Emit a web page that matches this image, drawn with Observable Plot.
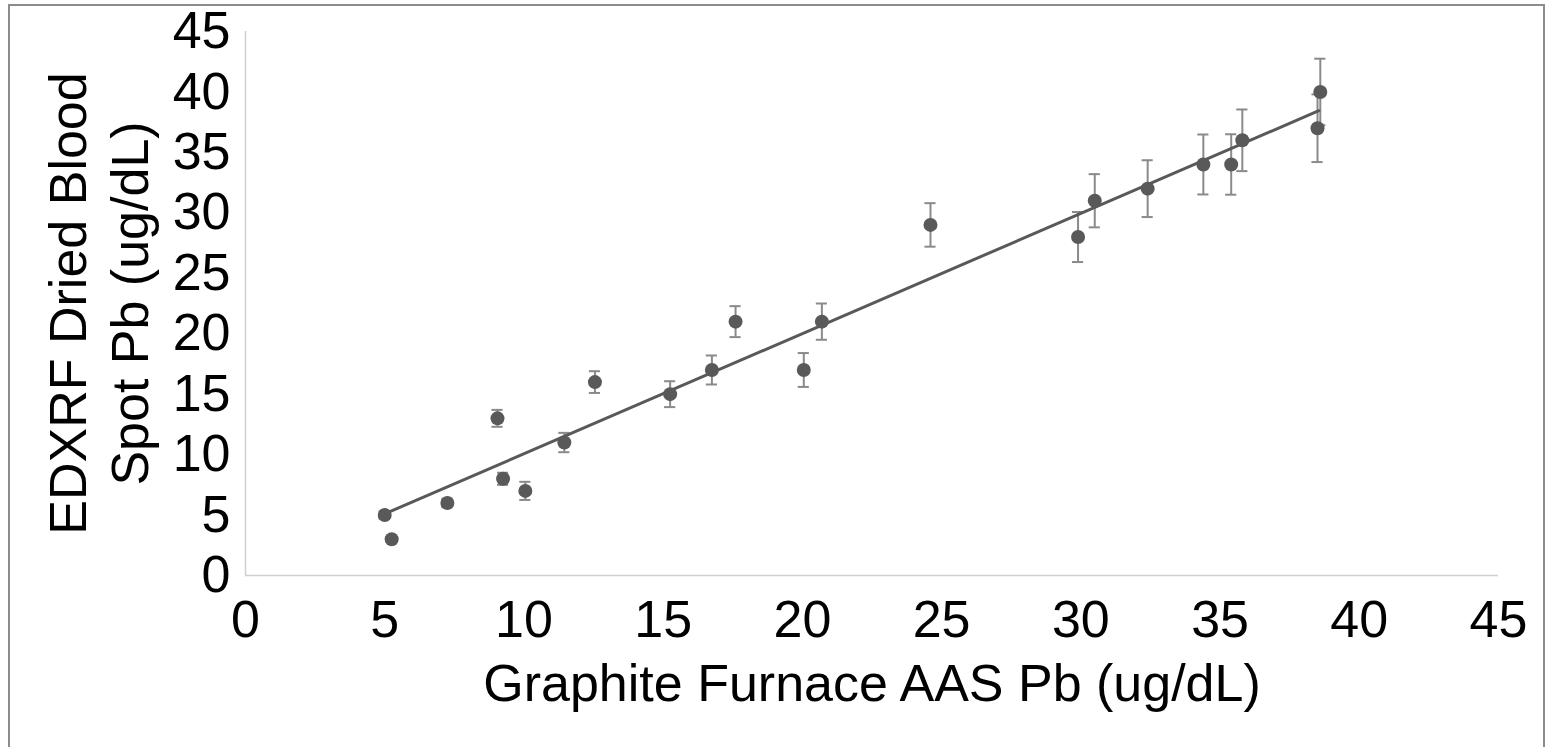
<!DOCTYPE html>
<html>
<head>
<meta charset="utf-8">
<script src="https://cdn.jsdelivr.net/npm/d3@7"></script>
<script src="https://cdn.jsdelivr.net/npm/@observablehq/plot@0.6"></script>
<style>
  html, body { margin: 0; padding: 0; background: #fff; }
  #wrap { position: relative; width: 1549px; height: 747px; overflow: hidden; }
  #border { position: absolute; left: 8px; top: 4px; width: 1537px; height: 760px;
            border: 2px solid #8c8c8c; pointer-events: none; box-sizing: border-box; }
</style>
</head>
<body>
<div id="wrap"><div id="chart"></div><div id="border"></div></div>
<script>
// Graphite Furnace AAS Pb (x) vs EDXRF dried blood spot Pb (y), ug/dL
const gfaas = [5.0, 5.25, 7.25, 9.05, 9.25, 10.05, 11.45, 12.55, 15.25, 16.75, 17.6, 20.05, 20.7, 24.6, 29.9, 30.5, 32.4, 34.4, 35.4, 35.8, 38.5, 38.6];
const edxrf = [5.0, 3.0, 6.0, 13.0, 8.0, 7.0, 11.0, 16.0, 15.0, 17.0, 21.0, 17.0, 21.0, 29.0, 28.0, 31.0, 32.0, 34.0, 34.0, 36.0, 37.0, 40.0];
const errs  = [0.3, 0.2, 0.35, 0.7, 0.5, 0.75, 0.8, 0.9, 1.07, 1.2, 1.28, 1.4, 1.5, 1.8, 2.07, 2.2, 2.35, 2.48, 2.5, 2.55, 2.8, 2.75];
// fitted trend line end points
const trendX = [5.0, 38.55];
const trendY = [5.1, 38.45];
const xTicks = [0, 5, 10, 15, 20, 25, 30, 35, 40, 45];
const yTicks = [0, 5, 10, 15, 20, 25, 30, 35, 40, 45];
const xTitle = "Graphite Furnace AAS Pb (ug/dL)";
const yTitle1 = "EDXRF Dried Blood";
const yTitle2 = "Spot Pb (ug/dL)";

const pts = gfaas.map((x, i) => ({x, y: edxrf[i], e: errs[i]}));
const trend = trendX.map((x, i) => ({x, y: trendY[i]}));
const capW = 0.2;

const font = "'Liberation Sans', Arial, sans-serif";
const chart = Plot.plot({
  width: 1549,
  height: 747,
  marginLeft: 245,
  marginRight: 51,
  marginTop: 31,
  marginBottom: 172,
  style: {fontFamily: font, color: "#000", background: "transparent"},
  x: {domain: [0, 45], ticks: xTicks},
  y: {domain: [0, 45], ticks: yTicks},
  marks: [
    Plot.ruleY([0], {stroke: "#cfcfcf", strokeWidth: 1.5}),
    Plot.ruleX([0], {stroke: "#cfcfcf", strokeWidth: 1.5}),
    Plot.axisX({ticks: xTicks, tickSize: 0, tickPadding: 25, fontSize: 52, label: null}),
    Plot.axisY({ticks: yTicks, tickSize: 0, tickPadding: 15, fontSize: 52, label: null}),
    // error bars
    Plot.ruleX(pts, {x: "x", y1: d => d.y - d.e, y2: d => d.y + d.e, stroke: "#8a8a8a", strokeWidth: 2}),
    Plot.ruleY(pts, {y: d => d.y + d.e, x1: d => d.x - capW, x2: d => d.x + capW, stroke: "#8a8a8a", strokeWidth: 2}),
    Plot.ruleY(pts, {y: d => d.y - d.e, x1: d => d.x - capW, x2: d => d.x + capW, stroke: "#8a8a8a", strokeWidth: 2}),
    // trend line
    Plot.line(trend, {x: "x", y: "y", stroke: "#595959", strokeWidth: 3}),
    // points
    Plot.dot(pts, {x: "x", y: "y", r: 7, fill: "#595959", stroke: "none"}),
    // axis titles
    Plot.text([xTitle], {text: d => d, frameAnchor: "bottom", textAnchor: "middle", lineAnchor: "bottom", dy: 125, fontSize: 52, fill: "#000"}),
    Plot.text([yTitle1], {text: d => d, frameAnchor: "left", textAnchor: "middle", rotate: -90, lineAnchor: "bottom", dx: -160, fontSize: 52, fill: "#000"}),
    Plot.text([yTitle2], {text: d => d, frameAnchor: "left", textAnchor: "middle", rotate: -90, lineAnchor: "bottom", dx: -98, fontSize: 52, fill: "#000"})
  ]
});
document.getElementById("chart").appendChild(chart);
</script>
</body>
</html>
